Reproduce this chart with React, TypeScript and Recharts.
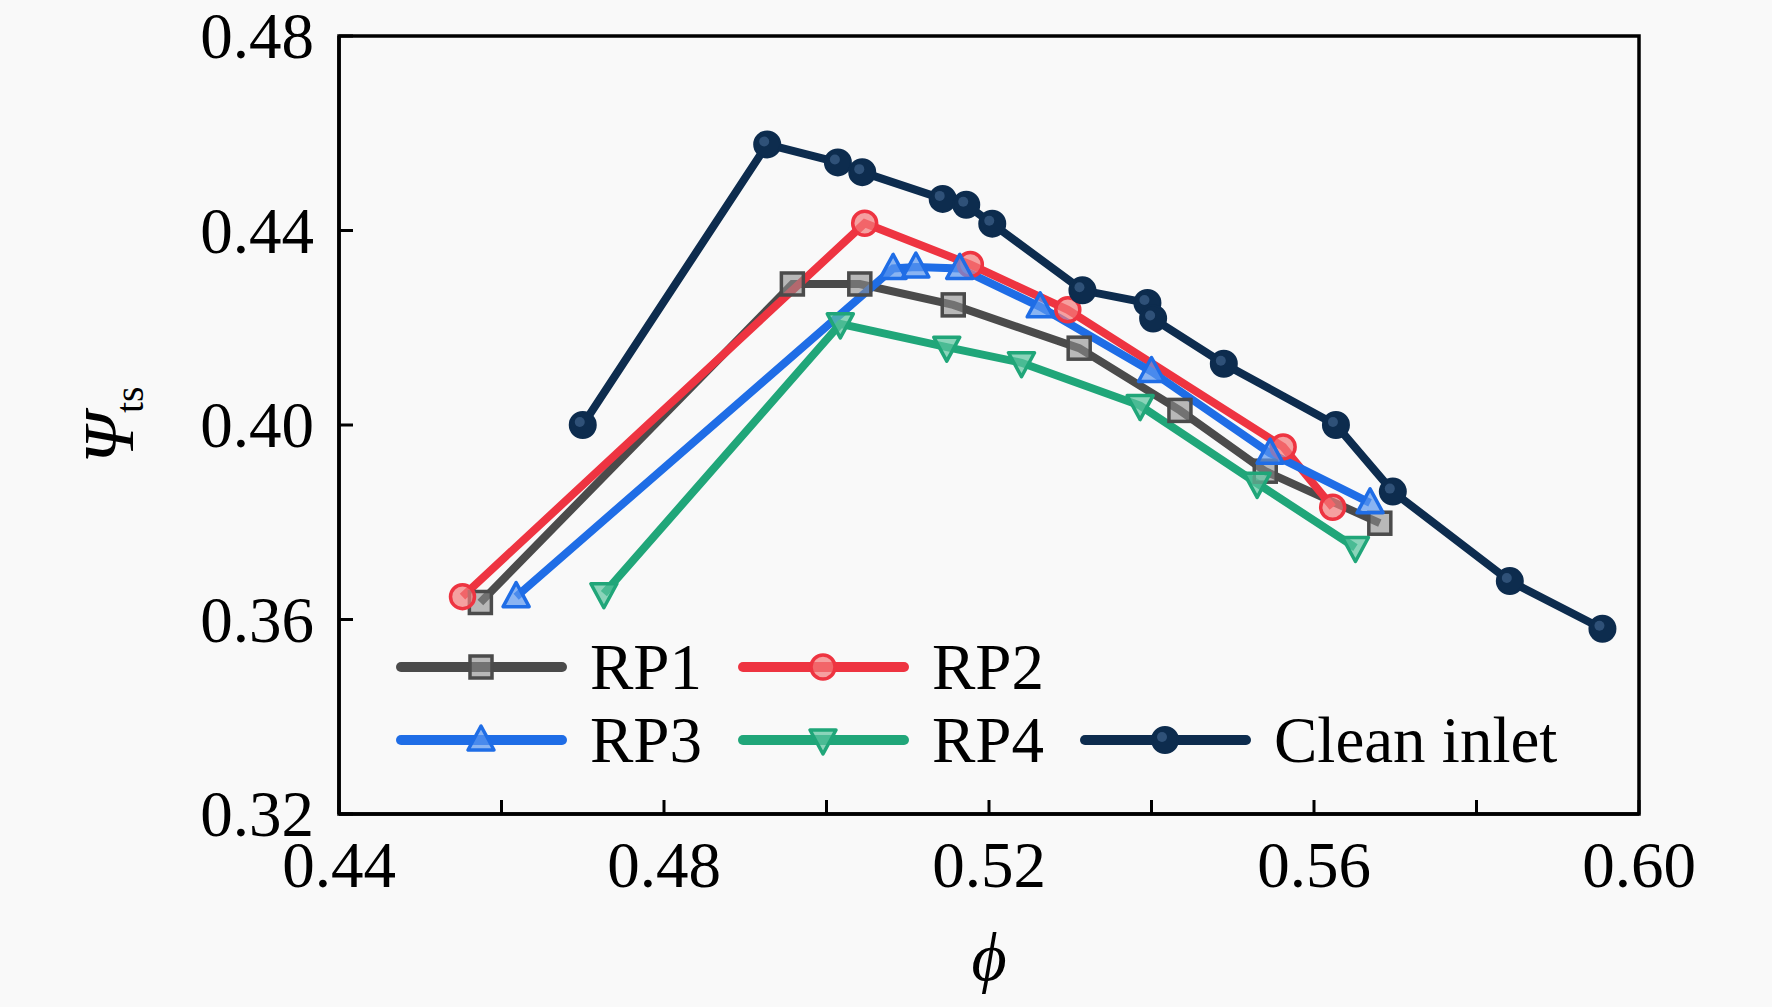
import React from 'react';
import { LineChart, Line, XAxis, YAxis, Legend, ReferenceArea } from 'recharts';

// values (phi = flow coefficient, psi = total-to-static loading)
const rp1Phi = [0.4574, 0.4958, 0.5041, 0.5156, 0.5311, 0.5435, 0.5540, 0.5681];
const rp1Psi = [0.3635, 0.4290, 0.4290, 0.4247, 0.4158, 0.4030, 0.3905, 0.3798];

const rp2Phi = [0.4552, 0.5047, 0.5177, 0.5297, 0.5562, 0.5623];
const rp2Psi = [0.3647, 0.4415, 0.4330, 0.4237, 0.3955, 0.3831];

const rp3Phi = [0.4618, 0.5082, 0.5110, 0.5164, 0.5263, 0.5400, 0.5546, 0.5669];
const rp3Psi = [0.3647, 0.4322, 0.4325, 0.4322, 0.4243, 0.4110, 0.3942, 0.3840];

const rp4Phi = [0.4726, 0.5017, 0.5148, 0.5240, 0.5386, 0.5530, 0.5651];
const rp4Psi = [0.3653, 0.4208, 0.4160, 0.4128, 0.4040, 0.3880, 0.3748];

const cleanPhi = [0.4700, 0.4927, 0.5014, 0.5044, 0.5143, 0.5172, 0.5204, 0.5315, 0.5395, 0.5402, 0.5489, 0.5627, 0.5697, 0.5841, 0.5955];
const cleanPsi = [0.4000, 0.4577, 0.4540, 0.4520, 0.4465, 0.4453, 0.4414, 0.4277, 0.4251, 0.4219, 0.4126, 0.4000, 0.3863, 0.3679, 0.3581];

const xTicks = [0.44, 0.46, 0.48, 0.50, 0.52, 0.54, 0.56, 0.58, 0.60];
const xLabelled = ['0.44', '0.48', '0.52', '0.56', '0.60'];
const yTicks = [0.32, 0.36, 0.40, 0.44, 0.48];

const FONT = '"Liberation Serif", "Times New Roman", serif';

type Shape = 'square' | 'circle' | 'triangle' | 'triangleDown' | 'ball';

const toPoints = (xs: number[], ys: number[]) => xs.map((x, i) => ({ x, y: ys[i] }));

const series = [
  { name: 'RP1', color: '#4b4b4b', fill: '#8c8c8c', shape: 'square' as Shape, data: toPoints(rp1Phi, rp1Psi) },
  { name: 'RP2', color: '#ee3441', fill: '#f47a7a', shape: 'circle' as Shape, data: toPoints(rp2Phi, rp2Psi) },
  { name: 'RP3', color: '#1f6de6', fill: '#5b97f0', shape: 'triangle' as Shape, data: toPoints(rp3Phi, rp3Psi) },
  { name: 'RP4', color: '#20a679', fill: '#5cc49f', shape: 'triangleDown' as Shape, data: toPoints(rp4Phi, rp4Psi) },
  { name: 'Clean inlet', color: '#0d2c4e', fill: '#2f5178', shape: 'ball' as Shape, data: toPoints(cleanPhi, cleanPsi) },
];

const Marker = ({ cx, cy, shape, color, fill }: { cx: number; cy: number; shape: Shape; color: string; fill: string }) => {
  if (cx == null || cy == null) return null;
  const sw = 3.5;
  switch (shape) {
    case 'square':
      return <rect x={cx - 11} y={cy - 11} width={22} height={22} fill={fill} fillOpacity={0.6} stroke={color} strokeWidth={sw} />;
    case 'circle':
      return <circle cx={cx} cy={cy} r={12} fill={fill} fillOpacity={0.7} stroke={color} strokeWidth={sw} />;
    case 'triangle':
      return <polygon points={`${cx},${cy - 14} ${cx - 13},${cy + 10} ${cx + 13},${cy + 10}`} fill={fill} fillOpacity={0.7} stroke={color} strokeWidth={sw} strokeLinejoin="round" />;
    case 'triangleDown':
      return <polygon points={`${cx},${cy + 14} ${cx - 13},${cy - 10} ${cx + 13},${cy - 10}`} fill={fill} fillOpacity={0.7} stroke={color} strokeWidth={sw} strokeLinejoin="round" />;
    default:
      return (
        <g>
          <circle cx={cx} cy={cy} r={13} fill={color} stroke={color} strokeWidth={2} />
          <circle cx={cx - 3} cy={cy - 3} r={5} fill={fill} />
        </g>
      );
  }
};

const XTick = (props: any) => {
  const { x, y, payload } = props;
  const label = payload.value.toFixed(2);
  return (
    <g>
      <line x1={x} x2={x} y1={y} y2={y - 14} stroke="#000" strokeWidth={3} />
      {xLabelled.includes(label) && (
        <text x={x} y={y + 73} textAnchor="middle" fontSize={65} fontFamily={FONT} fill="#000">
          {label}
        </text>
      )}
    </g>
  );
};

const YTick = (props: any) => {
  const { x, y, payload } = props;
  return (
    <g>
      <line x1={x} x2={x + 14} y1={y} y2={y} stroke="#000" strokeWidth={3} />
      <text x={x - 25} y={y + 22} textAnchor="end" fontSize={65} fontFamily={FONT} fill="#000">
        {payload.value.toFixed(2)}
      </text>
    </g>
  );
};

const renderLegend = () => {
  const rows = [[0, 1], [2, 3, 4]];
  return (
    <svg width={1100} height={170} style={{ overflow: 'visible' }}>
      {rows.map((row, r) =>
        row.map((idx, c) => {
          const s = series[idx];
          const x0 = 21 + c * 342;
          const yc = 47 + r * 73;
          return (
            <g key={s.name}>
              <line x1={x0} x2={x0 + 161} y1={yc} y2={yc} stroke={s.color} strokeWidth={10} strokeLinecap="round" />
              <Marker cx={x0 + 80} cy={yc} shape={s.shape} color={s.color} fill={s.fill} />
              <text x={x0 + 189} y={yc + 22} fontSize={65} fontFamily={FONT} fill="#000">
                {s.name}
              </text>
            </g>
          );
        })
      )}
    </svg>
  );
};

const XTitle = (props: any) => {
  const { x, y, width } = props.viewBox;
  return (
    <text x={x + width / 2} y={y + 166} textAnchor="middle" fontSize={68} fontStyle="italic" fontFamily={FONT} fill="#000">
      ϕ
    </text>
  );
};

const YTitle = () => {
  const cx = 133;
  const cy = 425;
  return (
    <text x={cx} y={cy} transform={`rotate(-90, ${cx}, ${cy})`} textAnchor="middle" fontFamily={FONT} fill="#000">
      <tspan fontSize={72} fontStyle="italic">Ψ</tspan>
      <tspan fontSize={40} dy={10}>ts</tspan>
    </text>
  );
};

const App: React.FC = () => {
  return (
    <div style={{ position: 'absolute', left: 0, top: 0, width: 1772, height: 1007, background: '#f9f9f9' }}>
      <LineChart width={1772} height={1007} margin={{ top: 36, right: 133, left: 299, bottom: 153 }}>
        <ReferenceArea x1={0.44} x2={0.6} y1={0.32} y2={0.48} fill="none" fillOpacity={0} stroke="#000" strokeWidth={3.5} />
        <XAxis
          type="number"
          dataKey="x"
          domain={[0.44, 0.6]}
          ticks={xTicks}
          allowDataOverflow
          height={40}
          tickSize={0}
          tickMargin={0}
          tickLine={false}
          axisLine={{ stroke: '#000', strokeWidth: 3.5 }}
          tick={<XTick />}
          interval={0}
          label={XTitle}
        />
        <YAxis
          type="number"
          dataKey="y"
          domain={[0.32, 0.48]}
          ticks={yTicks}
          allowDataOverflow
          width={40}
          tickSize={0}
          tickMargin={0}
          tickLine={false}
          axisLine={{ stroke: '#000', strokeWidth: 3.5 }}
          tick={<YTick />}
          interval={0}
          label={YTitle}
        />
        {series.map((s) => (
          <Line
            key={s.name}
            data={s.data}
            dataKey="y"
            name={s.name}
            type="linear"
            stroke={s.color}
            strokeWidth={8}
            isAnimationActive={false}
            dot={(p: any) => <Marker key={`${s.name}-${p.index}`} cx={p.cx} cy={p.cy} shape={s.shape} color={s.color} fill={s.fill} />}
            activeDot={false}
          />
        ))}
        <Legend
          layout="horizontal"
          verticalAlign="middle"
          align="center"
          content={renderLegend}
          wrapperStyle={{ left: 380, top: 620, width: 1100, height: 170 }}
        />
      </LineChart>
    </div>
  );
};

export default App;
